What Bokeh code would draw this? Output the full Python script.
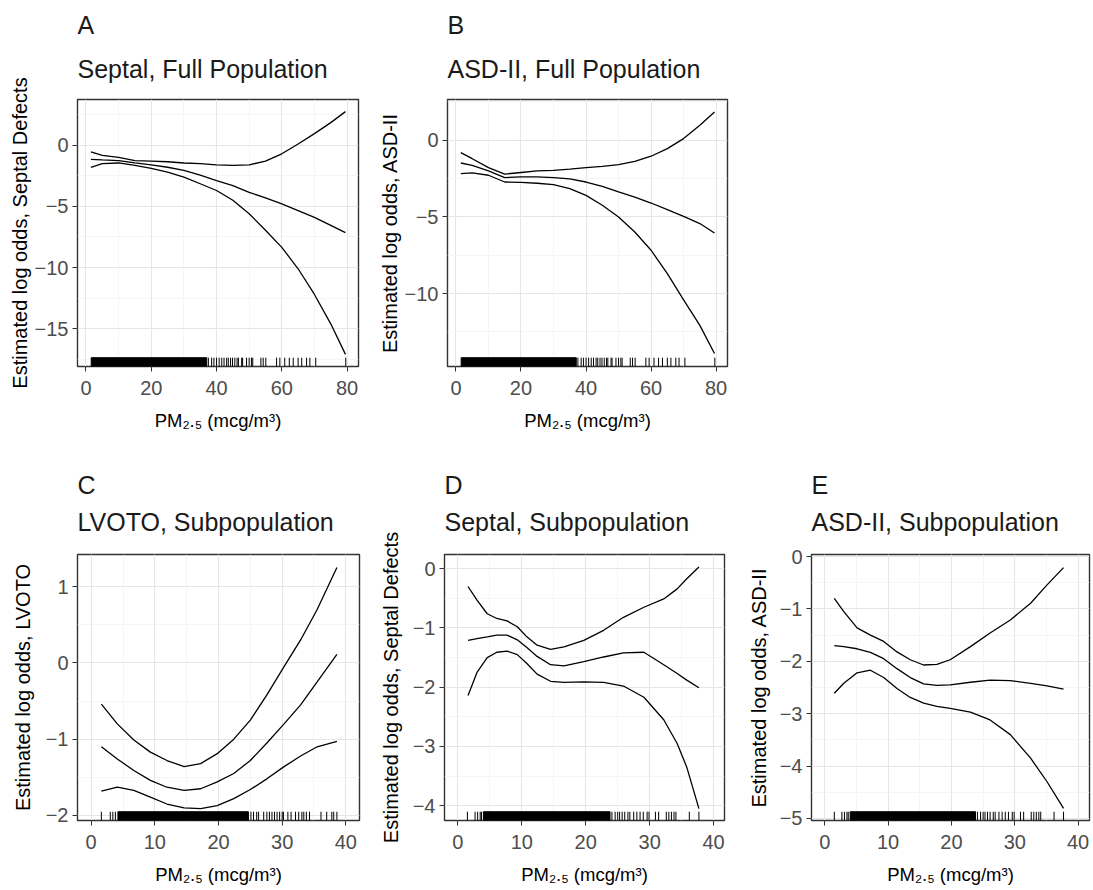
from bokeh.plotting import figure
from bokeh.models import Range1d, FixedTicker, Title, CustomJSTickFormatter
from bokeh.layouts import column, row
from bokeh.embed import file_html
from bokeh.resources import INLINE

# ---------------- data ----------------
x_label = "PM\u2082.\u2085 (mcg/m\u00b3)"

# A: Septal, Full Population
a_x   = [1.5, 5, 10, 15, 20, 25, 30, 35, 40, 45, 50, 55, 60, 65, 70, 75, 79.5]
a_up  = [-0.55, -0.82, -1.0, -1.25, -1.3, -1.35, -1.45, -1.5, -1.6, -1.65, -1.6, -1.3, -0.7, 0.1, 0.95, 1.85, 2.75]
a_fit = [-1.15, -1.2, -1.25, -1.45, -1.6, -1.8, -2.05, -2.45, -2.9, -3.3, -3.85, -4.3, -4.8, -5.35, -5.9, -6.55, -7.15]
a_lo  = [-1.8, -1.5, -1.45, -1.65, -1.9, -2.2, -2.6, -3.15, -3.7, -4.5, -5.6, -6.95, -8.35, -10.1, -12.2, -14.6, -17.1]

# B: ASD-II, Full Population
b_x   = [1.5, 5, 10, 15, 20, 25, 30, 35, 40, 45, 50, 55, 60, 65, 70, 75, 79.5]
b_up  = [-0.8, -1.2, -1.78, -2.2, -2.1, -2.0, -1.96, -1.88, -1.78, -1.7, -1.59, -1.37, -1.04, -0.54, 0.11, 0.98, 1.85]
b_fit = [-1.48, -1.63, -2.0, -2.43, -2.39, -2.38, -2.43, -2.52, -2.72, -3.0, -3.37, -3.7, -4.09, -4.52, -4.96, -5.43, -6.04]
b_lo  = [-2.17, -2.13, -2.28, -2.72, -2.74, -2.8, -2.89, -3.15, -3.59, -4.24, -5.0, -5.98, -7.17, -8.7, -10.4, -12.07, -13.9]

# C: LVOTO, Subpopulation
c_x   = [1.6, 4.1, 6.7, 9.3, 11.9, 14.6, 17.2, 19.8, 22.4, 25.0, 27.6, 30.3, 32.9, 35.5, 38.6]
c_up  = [-0.54, -0.8, -1.01, -1.17, -1.28, -1.36, -1.32, -1.19, -1.0, -0.75, -0.42, -0.05, 0.3, 0.7, 1.25]
c_fit = [-1.1, -1.26, -1.41, -1.54, -1.63, -1.67, -1.65, -1.56, -1.45, -1.28, -1.05, -0.8, -0.55, -0.25, 0.11]
c_lo  = [-1.68, -1.63, -1.67, -1.76, -1.85, -1.9, -1.91, -1.87, -1.78, -1.66, -1.52, -1.36, -1.22, -1.1, -1.03]

# D: Septal, Subpopulation
d_x   = [1.6, 3.0, 4.6, 6.1, 7.7, 9.3, 10.8, 12.4, 14.5, 16.6, 19.7, 22.8, 25.9, 29.1, 32.2, 34.3, 35.8, 37.7]
d_up  = [-0.3, -0.53, -0.76, -0.84, -0.88, -0.98, -1.15, -1.29, -1.36, -1.32, -1.21, -1.04, -0.82, -0.65, -0.51, -0.34, -0.17, 0.03]
d_fit = [-1.21, -1.18, -1.15, -1.12, -1.12, -1.2, -1.33, -1.48, -1.62, -1.64, -1.57, -1.49, -1.42, -1.41, -1.62, -1.77, -1.88, -2.01]
d_lo  = [-2.14, -1.75, -1.5, -1.41, -1.39, -1.45, -1.6, -1.78, -1.9, -1.92, -1.91, -1.92, -1.98, -2.17, -2.55, -2.95, -3.35, -4.05]

# E: ASD-II, Subpopulation
e_x   = [1.5, 3.0, 5.1, 7.2, 9.3, 11.4, 13.5, 15.6, 17.7, 19.8, 23.0, 26.1, 29.3, 32.5, 35.1, 37.7]
e_up  = [-0.8, -1.05, -1.36, -1.5, -1.62, -1.82, -1.97, -2.07, -2.06, -1.97, -1.72, -1.46, -1.21, -0.89, -0.54, -0.21]
e_fit = [-1.7, -1.72, -1.76, -1.83, -1.95, -2.14, -2.31, -2.43, -2.46, -2.45, -2.4, -2.36, -2.37, -2.42, -2.47, -2.53]
e_lo  = [-2.61, -2.42, -2.22, -2.17, -2.31, -2.52, -2.69, -2.8, -2.86, -2.9, -2.97, -3.12, -3.4, -3.85, -4.3, -4.81]

# rug: exposure observations (dense stretch given as an interval, sparse ones listed)
rug_full_band = [1.6, 37.0]
rug_full = [37.5, 38.5, 39.2, 40.0, 40.8, 41.6, 42.3, 43.1, 43.6, 44.3, 44.9, 45.6, 46.3, 46.7,
            47.7, 48.0, 49.2, 50.0, 50.7, 51.1, 53.6, 54.3, 55.1, 58.4, 59.4, 60.9, 62.3, 63.5,
            65.0, 66.1, 67.6, 68.6, 70.4, 79.6]
rug_c_band = [4.2, 24.7]
rug_c = [1.6, 3.0, 3.4, 3.8, 25.1, 25.5, 26.0, 26.3, 27.1, 27.6, 28.0, 28.4, 28.8, 29.2, 29.6,
         30.0, 30.2, 30.9, 31.4, 32.1, 32.6, 33.1, 33.4, 33.8, 34.3, 36.1, 37.0, 37.8, 38.1, 38.6]
rug_sub_band = [4.0, 23.8]
rug_sub = [1.5, 2.7, 3.1, 3.5, 3.7, 24.1, 24.6, 25.0, 25.3, 25.7, 26.1, 26.6, 26.9, 27.5, 28.0,
           28.5, 29.0, 29.6, 29.9, 30.9, 31.4, 32.6, 33.0, 33.4, 33.8, 34.1, 36.2, 37.7]

FONT = "Liberation Sans"


def panel(tag, title, ylab, xr, yr, xt, xm, yt, ym, xs, up, fit, lo, band, rug,
          fw, fh, bl, br, bt, bb, ylab_standoff, sub_standoff, tag_standoff):
    p = figure(frame_width=fw, frame_height=fh, min_border_left=bl, min_border_right=br,
               min_border_top=bt, min_border_bottom=bb,
               x_range=Range1d(*xr), y_range=Range1d(*yr),
               toolbar_location=None, output_backend="svg", title=None)
    p.add_layout(Title(text=title, align="left", text_font=FONT, text_font_size="25px",
                       text_font_style="normal", text_color="#1a1a1a", standoff=sub_standoff), "above")
    p.add_layout(Title(text=tag, align="left", text_font=FONT, text_font_size="25px",
                       text_font_style="normal", text_color="#1a1a1a", standoff=tag_standoff), "above")
    xtick = FixedTicker(ticks=xt, minor_ticks=xm)
    ytick = FixedTicker(ticks=yt, minor_ticks=ym)
    p.xaxis.ticker = xtick
    p.xgrid.ticker = xtick
    p.yaxis.ticker = ytick
    p.ygrid.ticker = ytick
    fmt = CustomJSTickFormatter(code="return String(tick).replace('-', '\u2212');")
    p.xaxis.formatter = fmt
    p.yaxis.formatter = fmt
    for ax in (p.xaxis, p.yaxis):
        ax.axis_line_color = None
        ax.major_tick_line_color = "#333333"
        ax.major_tick_line_width = 1
        ax.major_tick_out = 5
        ax.major_tick_in = 0
        ax.minor_tick_line_color = None
        ax.major_label_text_font = FONT
        ax.major_label_text_font_size = "20px"
        ax.major_label_text_color = "#4d4d4d"
        ax.axis_label_text_font = FONT
        ax.axis_label_text_font_style = "normal"
        ax.axis_label_text_color = "black"
    p.xaxis.axis_label = x_label
    p.xaxis.axis_label_text_font_size = "18.5px"
    p.xaxis.major_label_standoff = 9
    p.xaxis.axis_label_standoff = 12
    p.yaxis.axis_label = ylab
    p.yaxis.axis_label_text_font_size = "20px"
    p.yaxis.major_label_standoff = 4
    p.yaxis.axis_label_standoff = ylab_standoff
    for g in (p.xgrid, p.ygrid):
        g.grid_line_color = "#e6e6e6"
        g.grid_line_width = 1.1
        g.minor_grid_line_color = "#f2f2f2"
        g.minor_grid_line_width = 0.8
    p.outline_line_color = "#333333"
    p.outline_line_width = 1.4
    p.background_fill_color = "white"
    p.border_fill_color = "white"

    # rug at bottom of panel, 3% of the panel height
    y0 = yr[0]
    y1 = yr[0] + 0.033 * (yr[1] - yr[0])
    p.quad(left=[band[0]], right=[band[1]], bottom=[y0], top=[y1],
           fill_color="black", line_color="black", line_width=1)
    p.segment(x0=rug, x1=rug, y0=[y0] * len(rug), y1=[y1] * len(rug),
              line_color="black", line_width=1)

    for ys in (up, fit, lo):
        p.line(xs, ys, line_color="black", line_width=1.3)
    return p


x80 = [0, 20, 40, 60, 80]
x80m = [10, 30, 50, 70]
x40 = [0, 10, 20, 30, 40]
x40m = [5, 15, 25, 35]

pA = panel("A", "Septal, Full Population", "Estimated log odds, Septal Defects",
           (-2.6, 83.5), (-18.09, 3.74), x80, x80m, [-15, -10, -5, 0], [-17.5, -12.5, -7.5, -2.5, 2.5],
           a_x, a_up, a_fit, a_lo, rug_full_band, rug_full,
           281, 267, 77, 17, 99, 79, 1, 34, -6)
pB = panel("B", "ASD-II, Full Population", "Estimated log odds, ASD-II",
           (-2.6, 83.5), (-14.75, 2.66), x80, x80m, [-10, -5, 0], [-12.5, -7.5, -2.5, 2.5],
           b_x, b_up, b_fit, b_lo, rug_full_band, rug_full,
           280, 267, 69, 18, 99, 79, 1, 34, -6)
pC = panel("C", "LVOTO, Subpopulation", "Estimated log odds, LVOTO",
           (-2.15, 42.15), (-2.066, 1.42), x40, x40m, [-2, -1, 0, 1], [-1.5, -0.5, 0.5],
           c_x, c_up, c_fit, c_lo, rug_c_band, rug_c,
           282, 266, 77, 16, 109, 62, 9, 38, -24)
pD = panel("D", "Septal, Subpopulation", "Estimated log odds, Septal Defects",
           (-2.08, 41.7), (-4.25, 0.24), x40, x40m, [-4, -3, -2, -1, 0], [-3.5, -2.5, -1.5, -0.5],
           d_x, d_up, d_fit, d_lo, rug_sub_band, rug_sub,
           280, 266, 69, 18, 109, 62, 8, 38, -24)
pE = panel("E", "ASD-II, Subpopulation", "Estimated log odds, ASD-II",
           (-2.1, 41.8), (-5.04, 0.04), x40, x40m, [-5, -4, -3, -2, -1, 0], [-4.5, -3.5, -2.5, -1.5, -0.5],
           e_x, e_up, e_fit, e_lo, rug_sub_band, rug_sub,
           278, 266, 69, 2, 109, 62, 7, 38, -24)

layout = column(row(pA, pB), row(pC, pD, pE))
open("out.html", "w").write(file_html(layout, INLINE))
